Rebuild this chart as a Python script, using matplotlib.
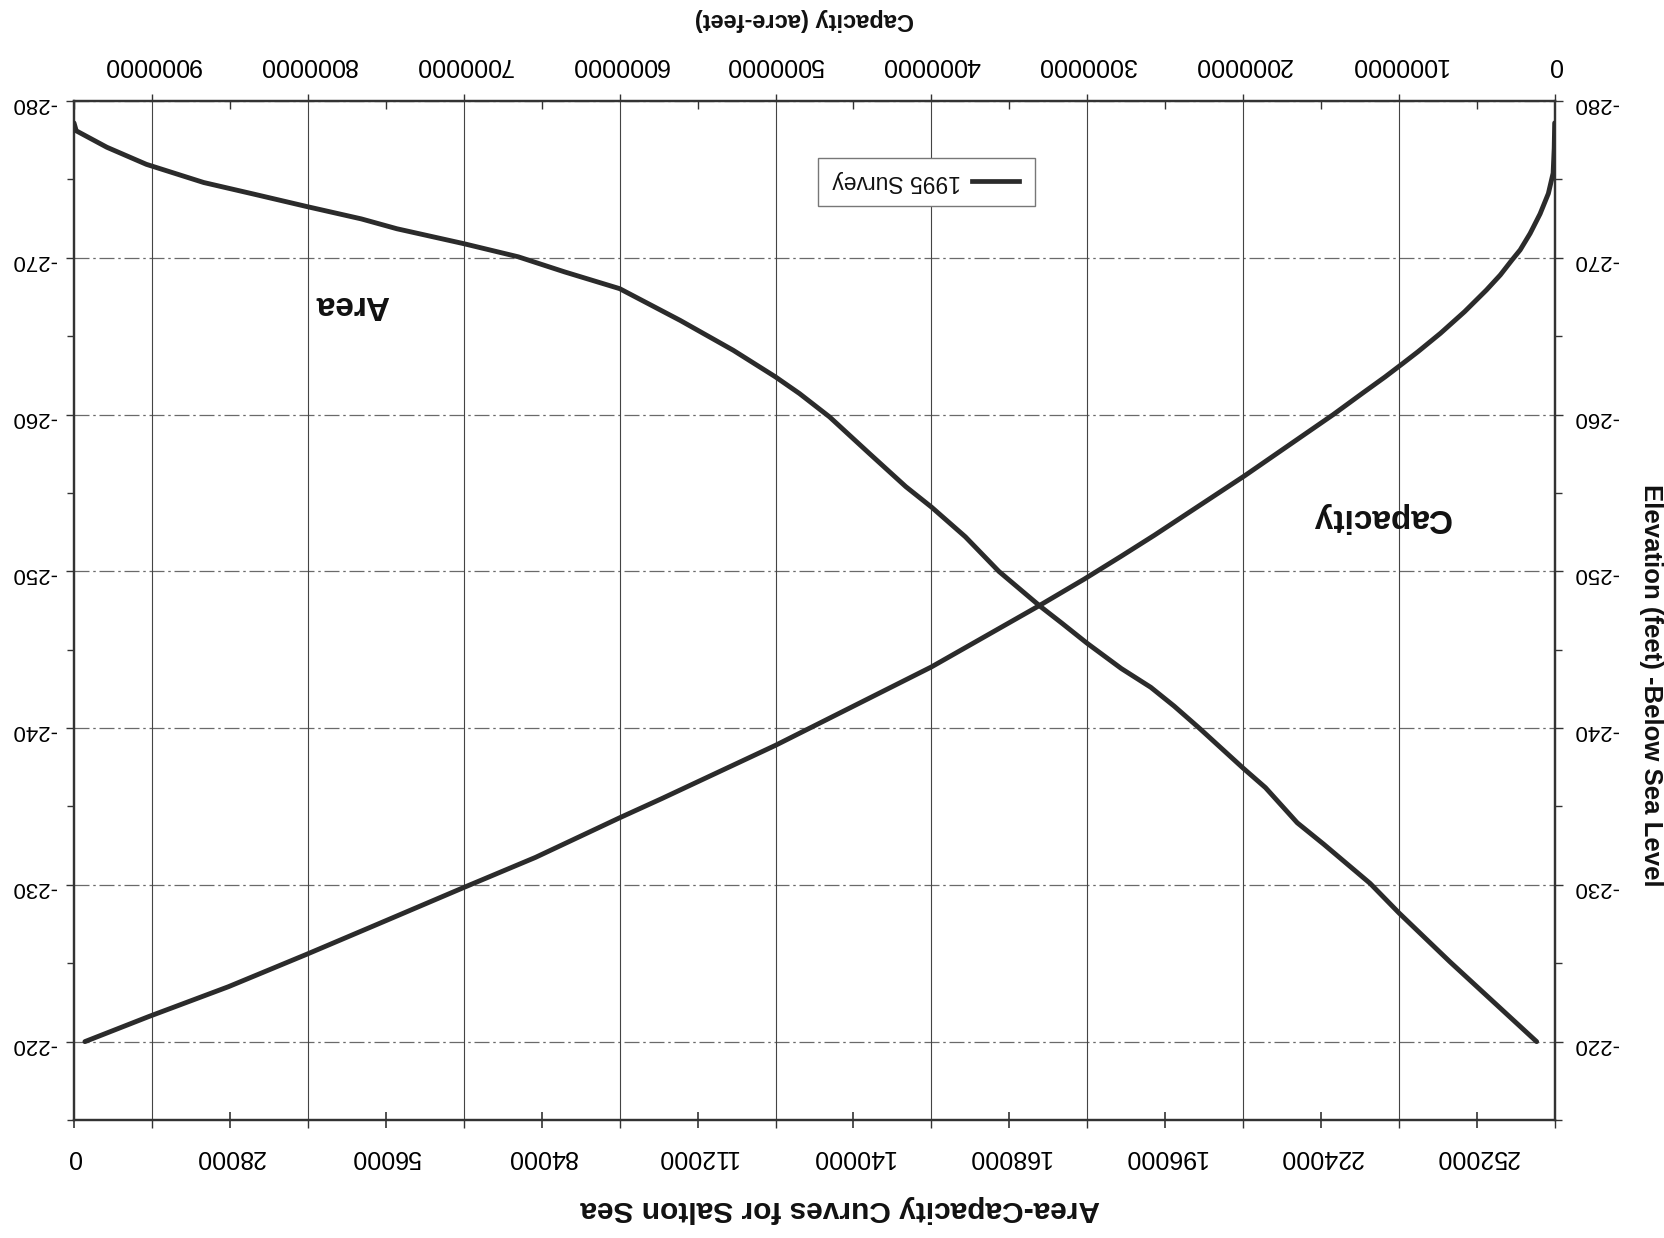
import matplotlib
matplotlib.use('Agg')
import matplotlib.pyplot as plt
from matplotlib.ticker import FixedLocator, MultipleLocator, FuncFormatter
from matplotlib.patches import Rectangle
from matplotlib.lines import Line2D
import numpy as np

plt.rcParams['font.family'] = ['Liberation Sans', 'DejaVu Sans']
plt.rcParams['axes.unicode_minus'] = False

# ── Data ──────────────────────────────────────────────────────────────────────
# Area curve: elevation (ft) vs surface area (acres)
area_elev = [-278.6, -278.1, -277.05, -275.96, -274.8, -274.06, -273.26, -272.48,
             -271.85, -270.9, -270.06, -269.1, -268.03, -266.0, -264.1, -262.4,
             -261.34, -259.85, -257.5, -255.4, -254.1, -252.2, -250.0, -247.75,
             -246.7, -245.4, -243.8, -242.6, -241.4, -240.0, -237.44, -236.2,
             -233.96, -232.58, -230.09, -228.2, -225.1, -220.0]
area_acres = [0, 400, 5900, 13000, 23300, 32300, 41900, 51600,
              58000, 70000, 79800, 88100, 98000, 108900, 118400, 126000,
              130300, 135700, 142900, 149400, 154000, 160100, 166100, 173600,
              177400, 182000, 188100, 193400, 197600, 202100, 210000, 214000,
              219700, 224500, 232800, 238000, 247100, 262700]

# Capacity curve: elevation (ft) vs storage (acre-feet)
cap_elev = [-278.6, -277.0, -275.4, -274.1, -272.8, -271.55, -270.5, -269.85,
            -268.9, -267.94, -266.56, -265.18, -264.0, -263.27, -262.4, -261.36,
            -259.98, -256.1, -254.2, -252.3, -250.96, -249.5, -247.8, -243.9,
            -238.9, -235.5, -234.3, -231.75, -229.83, -227.48, -225.56, -223.5,
            -221.6, -220.0]
cap_acft = [2000, 5000, 12000, 42500, 95700, 159600, 223400, 276600,
            351000, 440000, 580000, 735000, 880000, 975000, 1090000, 1235000,
            1425000, 1990000, 2280000, 2570000, 2783000, 3020000, 3310000, 4000000,
            5000000, 5730000, 5995000, 6540000, 7000000, 7555000, 8010000, 8510000,
            9020000, 9430000]

area_ticks = np.arange(0, 252001, 28000)
cap_ticks = np.arange(0, 9000001, 1000000)
elev_ticks = np.arange(-280, -219, 10)

TITLE = 'Area-Capacity Curves for Salton Sea'
TOP_LABEL = 'Capacity (acre-feet)'
RIGHT_LABEL = 'Elevation (feet) -Below Sea Level'
LEGEND_LABEL = '1995 Survey'

LINE = '#2b2b2b'
AXC = '#333333'

# ── Figure (the scan is upside down, so is everything here) ──────────────────
W, H = 1665, 1238
fig = plt.figure(figsize=(W / 100, H / 100), dpi=100)
fig.patch.set_facecolor('white')
ax = fig.add_axes([74 / W, 1 - 1120 / H, 1481 / W, 1019 / H])
ax2 = ax.twiny()

ax.set_xlim(0, 266000)
ax.set_ylim(-215, -280)
ax2.set_xlim(9500000, 0)

plain = FuncFormatter(lambda v, p: f'{int(round(v))}')

# bottom: area axis
ax.xaxis.set_major_locator(FixedLocator(area_ticks))
ax.xaxis.set_minor_locator(FixedLocator(area_ticks + 14000))
ax.xaxis.set_major_formatter(plain)
ax.tick_params(axis='x', which='major', direction='inout', length=12, width=1.2,
               color=AXC, labelsize=18, labelrotation=180, pad=12)
ax.tick_params(axis='x', which='minor', direction='out', length=6, width=1.0, color=AXC)

# elevation axis, both sides
ax.yaxis.set_major_locator(FixedLocator(elev_ticks))
ax.yaxis.set_minor_locator(MultipleLocator(5))
ax.yaxis.set_ticks_position('both')
ax.tick_params(axis='y', which='major', direction='out', length=6, width=1.0,
               color=AXC, labelsize=16, labelrotation=180, pad=7,
               labelleft=True, labelright=True)
ax.tick_params(axis='y', which='minor', direction='out', length=5, width=1.0, color=AXC)

# top: capacity axis
ax2.xaxis.set_major_locator(FixedLocator(cap_ticks))
ax2.xaxis.set_minor_locator(FixedLocator(cap_ticks + 500000))
ax2.xaxis.set_major_formatter(plain)
ax2.tick_params(axis='x', which='major', direction='out', length=5, width=1.0,
                color=AXC, labelsize=18, labelrotation=180, pad=12)
ax2.tick_params(axis='x', which='minor', direction='in', length=6, width=1.0, color=AXC)

# grid
ax.grid(axis='y', which='major', color='#6a6a6a', lw=0.9, ls=(0, (12, 3, 2, 3)))
ax2.grid(axis='x', which='major', color='#444444', lw=0.8, ls='-')

for a in (ax, ax2):
    for s in a.spines.values():
        s.set_color(AXC)
        s.set_linewidth(1.6)

# curves (both drawn on the top axes so they sit above all gridlines)
ax2.plot(area_acres, area_elev, color=LINE, lw=3.5, solid_capstyle='round',
         solid_joinstyle='round', transform=ax.transData, zorder=4)
ax2.plot(cap_acft, cap_elev, color=LINE, lw=3.5, solid_capstyle='round',
         solid_joinstyle='round', zorder=4)
ax2.set_xlim(9500000, 0)
ax.set_xlim(0, 266000)
ax.set_ylim(-215, -280)

# legend box (handle on the right, text upside down)
fig.add_artist(Rectangle((818 / W, 1 - 206 / H), 217 / W, 48 / H,
                         transform=fig.transFigure, facecolor='white',
                         edgecolor='#777777', lw=1.0, zorder=5))
fig.add_artist(Line2D([972 / W, 1019 / W], [1 - 181 / H, 1 - 181 / H],
                      transform=fig.transFigure, color=LINE, lw=3.4, zorder=6))
fig.text(897 / W, 1 - 181 / H, LEGEND_LABEL, rotation=180, ha='center', va='center',
         fontsize=16.5, color='#111111', zorder=6)

# labels
fig.text(352 / W, 1 - 305 / H, 'Area', rotation=180, ha='center', va='center',
         fontsize=24, fontweight='bold', color='#111111')
fig.text(1381 / W, 1 - 517 / H, 'Capacity', rotation=180, ha='center', va='center',
         fontsize=24, fontweight='bold', color='#111111')
fig.text(840 / W, 1 - 1209 / H, TITLE, rotation=180, ha='center', va='center',
         fontsize=21.5, fontweight='bold', color='#111111')
fig.text(804 / W, 1 - 19 / H, TOP_LABEL, rotation=180, ha='center', va='center',
         fontsize=17, fontweight='bold', color='#111111')
fig.text(1651 / W, 1 - 685 / H, RIGHT_LABEL, rotation=270, ha='center', va='center',
         fontsize=18.5, fontweight='bold', color='#111111')

plt.savefig('out.png', dpi=100, facecolor='white')
